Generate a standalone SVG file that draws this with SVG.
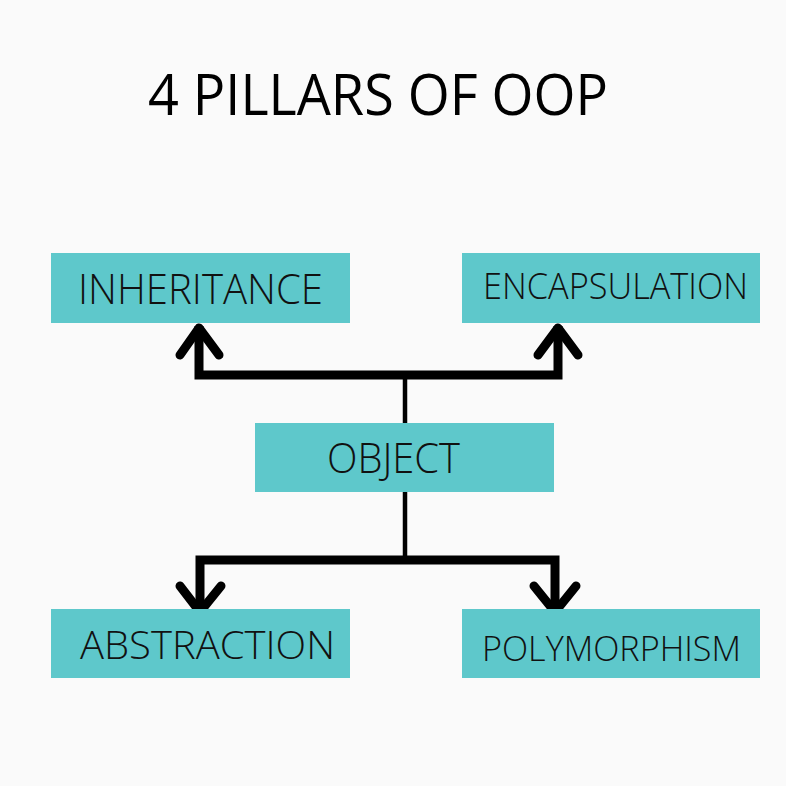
<svg xmlns="http://www.w3.org/2000/svg" width="786" height="786" viewBox="0 0 786 786">
  <style>
    .box { fill: #5EC8CB; }
    .lbl { font-family: "Open Sans", "Liberation Sans", sans-serif; font-weight: 300; fill: #111; }
    .title { font-family: "Open Sans", "Liberation Sans", sans-serif; font-weight: 400; fill: #000; }
    .thick { stroke: #000; stroke-width: 9; fill: none; }
    .thin { stroke: #000; stroke-width: 4.5; fill: none; }
    .head { stroke: #000; stroke-width: 9; fill: none; stroke-linecap: round; stroke-linejoin: round; }
  </style>
  <rect width="786" height="786" fill="#FAFAFA"/>
  <text class="title" x="148" y="115" font-size="56" textLength="460" lengthAdjust="spacingAndGlyphs">4 PILLARS OF OOP</text>

  <g id="connectors">
    <!-- top branch -->
    <line class="thin" x1="405" y1="375" x2="405" y2="423"/>
    <path class="thick" d="M199 326 V375 H558 V326"/>
    <path class="head" d="M180 355 L199 328 L219 355"/>
    <path class="head" d="M538 355 L558 328 L578 355"/>
    <!-- bottom branch -->
    <line class="thin" x1="405" y1="492" x2="405" y2="560"/>
    <path class="thick" d="M200 612 V560 H555 V612"/>
    <path class="head" d="M180 586 L200 612 L221 586"/>
    <path class="head" d="M534 586 L555 612 L576 586"/>
  </g>

  <g id="inheritance">
    <rect class="box" x="51" y="253" width="299" height="70"/>
    <text class="lbl" x="78" y="304" font-size="43" textLength="245" lengthAdjust="spacingAndGlyphs">INHERITANCE</text>
  </g>
  <g id="encapsulation">
    <rect class="box" x="462" y="253" width="298" height="70"/>
    <text class="lbl" x="483" y="299" font-size="36" textLength="265" lengthAdjust="spacingAndGlyphs">ENCAPSULATION</text>
  </g>
  <g id="object">
    <rect class="box" x="255" y="423" width="299" height="69"/>
    <text class="lbl" x="327" y="473" font-size="42" textLength="133" lengthAdjust="spacingAndGlyphs">OBJECT</text>
  </g>
  <g id="abstraction">
    <rect class="box" x="51" y="609" width="299" height="69"/>
    <text class="lbl" x="80" y="659" font-size="38" textLength="255" lengthAdjust="spacingAndGlyphs">ABSTRACTION</text>
  </g>
  <g id="polymorphism">
    <rect class="box" x="462" y="609" width="298" height="69"/>
    <text class="lbl" x="482" y="661" font-size="35" textLength="259" lengthAdjust="spacingAndGlyphs">POLYMORPHISM</text>
  </g>
</svg>
